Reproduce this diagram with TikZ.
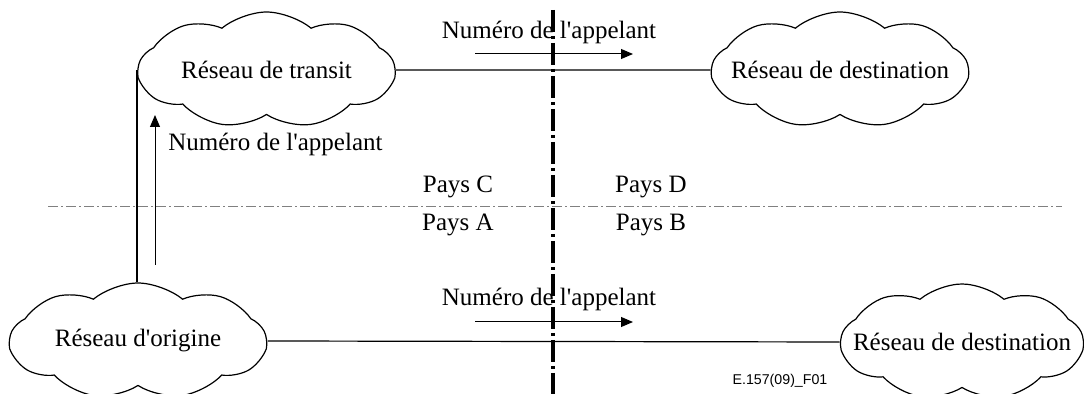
\documentclass[tikz,border=0pt]{standalone}
\usepackage{fontspec}
\setmainfont{Liberation Serif}
\newfontfamily\refont{Liberation Sans}
\usetikzlibrary{shapes.symbols,arrows.meta,calc}
\newcommand{\apos}{\textquotesingle}
\tikzset{
	net/.style={cloud, cloud puffs=9, cloud puff arc=80, draw, line width=0.6pt,
		minimum width=128pt, minimum height=58pt, inner sep=0pt,
		label={[lbl]center:#1}},
	lbl/.style={font=\fontsize{12.5}{15}\selectfont, inner sep=0pt},
	dir/.style={-{Triangle[length=6pt,width=5pt]}, line width=0.5pt},
	border/.style={line width=2pt, dash pattern=on 11pt off 2pt on 1.5pt off 2pt},
	limit/.style={gray, line width=0.5pt, dash pattern=on 5pt off 1.5pt on 1pt off 1.5pt},
}
\begin{document}
\begin{tikzpicture}[x=0.5pt, y=-0.5pt]
		\useasboundingbox (0,0) rectangle (1084,394);
		\node[net={R\'eseau de transit}] (tr) at (266.5,70) {};
		\node[net={R\'eseau de destination}] (d1) at (840,70) {};
		\node[net={R\'eseau d\apos origine}] (or) at (138,341) {};
		\node[net={R\'eseau de destination}, minimum width=121pt] (d2) at (962,342) {};
		%
		\draw[line width=0.6pt] (tr.east) -- (d1.west);
		\draw[line width=0.6pt] (or.east) -- (d2.west);
		\draw[line width=0.6pt] (tr.west) -- (tr.west |- or.north);
		%
		\coordinate (a1) at (475,54);
		\coordinate (a2) at (633,54);
		\coordinate (b1) at (475,322);
		\coordinate (b2) at (633,322);
		\coordinate (c1) at (155,265);
		\coordinate (c2) at (155,115);
		\draw[dir] (a1) -- (a2);
		\draw[dir] (b1) -- (b2);
		\draw[dir] (c1) -- (c2);
		\node[lbl] (ta) at (549,32) {Num\'ero de l\apos appelant};
		\node[lbl] (tb) at (549,299) {Num\'ero de l\apos appelant};
		\node[lbl, anchor=west] (tc) at (168,144) {Num\'ero de l\apos appelant};
		%
		\node[lbl] (pc) at (458,187) {Pays C};
		\node[lbl] (pd) at (651,187) {Pays D};
		\node[lbl] (pa) at (458,225) {Pays A};
		\node[lbl] (pb) at (651,225) {Pays B};
		%
		\coordinate (h1) at (48,207);
		\coordinate (h2) at (1062,207);
		\coordinate (v1) at (553,10);
		\coordinate (v2) at (553,394);
		\draw[limit] (h1) -- (h2);
		\draw[border] (v1) -- (v2);
		%
		\node[font=\refont\fontsize{7.1}{8}\selectfont, inner sep=0pt] (ref) at (780,381) {E.157(09)\_F01};
	\end{tikzpicture}
\end{document}
